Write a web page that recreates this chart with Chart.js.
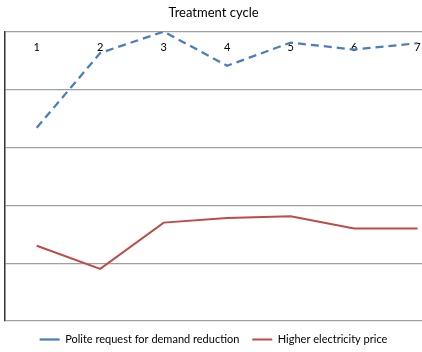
<!DOCTYPE html>
<html>
<head>
<meta charset="utf-8">
<script src="https://cdn.jsdelivr.net/npm/chart.js@4"></script>
<style>
  html, body { margin: 0; padding: 0; background: #fff; }
  #wrap { width: 422px; height: 352px; }
</style>
</head>
<body>
<div id="wrap"><canvas id="cycleChart"></canvas></div>
<script>
// treatment cycles along the top axis
const cycles = ['1', '2', '3', '4', '5', '6', '7'];
const politeRequest = [3.34, 4.63, 5.0, 4.41, 4.81, 4.69, 4.80];
const higherPrice = [1.30, 0.90, 1.70, 1.78, 1.81, 1.60, 1.60];
const seriesNames = ['Polite request for demand reduction', 'Higher electricity price'];

const toPoints = vals => vals.map((v, i) => ({ x: i + 1, y: v }));

const ctx = document.getElementById('cycleChart').getContext('2d');
new Chart(ctx, {
    type: 'line',
    data: {
        datasets: [{
            label: seriesNames[0],
            data: toPoints(politeRequest),
            borderColor: '#4A7EBB',
            backgroundColor: '#4A7EBB',
            borderWidth: 2.25,
            borderDash: [8, 5],
            pointRadius: 0,
            tension: 0
        }, {
            label: seriesNames[1],
            data: toPoints(higherPrice),
            borderColor: '#BE4B48',
            backgroundColor: '#BE4B48',
            borderWidth: 2,
            pointRadius: 0,
            tension: 0
        }]
    },
    options: {
        responsive: true,
        maintainAspectRatio: false,
        animation: false,
        layout: { padding: { left: 5, right: 0, top: 0, bottom: -3 } },
        plugins: {
            title: {
                display: true,
                text: 'Treatment cycle',
                color: '#000',
                font: { family: 'Lato', size: 13, weight: 'normal' },
                padding: { top: 5, bottom: 11 }
            },
            legend: {
                position: 'bottom',
                labels: {
                    color: '#000',
                    font: { family: 'Lato', size: 11 },
                    usePointStyle: true,
                    pointStyle: 'line',
                    pointStyleWidth: 20,
                    boxWidth: 20,
                    padding: 13
                }
            },
            tooltip: { enabled: false }
        },
        scales: {
            x: {
                type: 'linear',
                position: { y: 5 },
                min: 0.5,
                max: 7.07,
                afterBuildTicks: s => { s.ticks = cycles.map((c, i) => ({ value: i + 1 })); },
                grid: { display: false, drawTicks: true, tickLength: 9 },
                border: { display: false },
                ticks: {
                    padding: 0,
                    color: '#000',
                    font: { family: 'Lato', size: 11 },
                    maxRotation: 0,
                    autoSkip: false,
                    callback: v => cycles[v - 1]
                }
            },
            y: {
                min: 0,
                max: 5,
                ticks: { display: false, stepSize: 1 },
                grid: { color: '#A0A0A0', lineWidth: 1.2, drawTicks: false },
                border: { display: true, color: '#333', width: 1.5 }
            }
        }
    }
});
</script>
</body>
</html>
